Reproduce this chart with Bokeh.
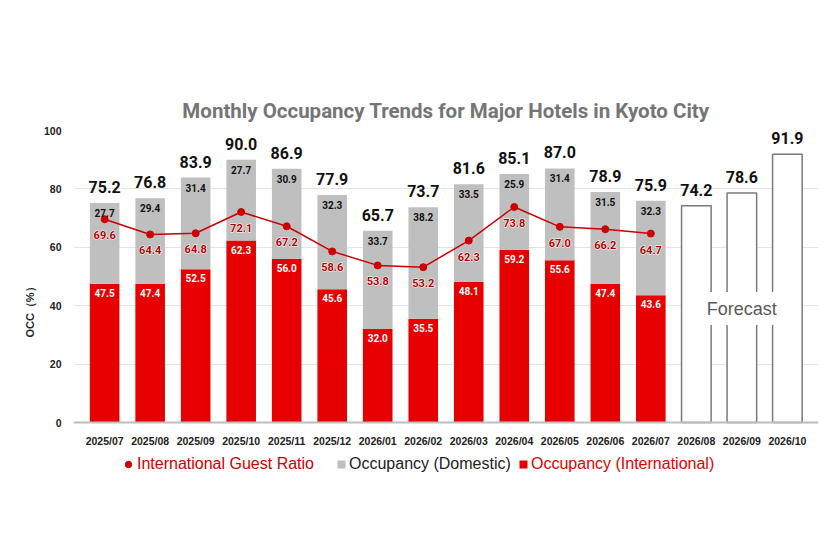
from bokeh.plotting import figure
from bokeh.models import ColumnDataSource, FactorRange, Range1d, Legend, LegendItem
from bokeh.core.properties import value
from bokeh.embed import file_html
from bokeh.resources import INLINE

months = ["2025/07", "2025/08", "2025/09", "2025/10", "2025/11", "2025/12",
          "2026/01", "2026/02", "2026/03", "2026/04", "2026/05", "2026/06",
          "2026/07", "2026/08", "2026/09", "2026/10"]
actual_months = months[:13]
forecast_months = months[13:]

occ_international = [47.5, 47.4, 52.5, 62.3, 56.0, 45.6, 32.0, 35.5, 48.1, 59.2, 55.6, 47.4, 43.6]
occ_domestic = [27.7, 29.4, 31.4, 27.7, 30.9, 32.3, 33.7, 38.2, 33.5, 25.9, 31.4, 31.5, 32.3]
intl_ratio = [69.6, 64.4, 64.8, 72.1, 67.2, 58.6, 53.8, 53.2, 62.3, 73.8, 67.0, 66.2, 64.7]
forecast_occ = [74.2, 78.6, 91.9]
y_ticks = [0, 20, 40, 60, 80, 100]

total = [round(a + b, 1) for a, b in zip(occ_international, occ_domestic)]

RED = "#e60000"
GRAY = "#bfbfbf"
LINE_RED = "#cc0000"

src = ColumnDataSource(dict(
    month=actual_months,
    intl=occ_international,
    dom=occ_domestic,
    total=total,
    ratio=intl_ratio,
    intl_lbl=[f"{v:.1f}" for v in occ_international],
    dom_lbl=[f"{v:.1f}" for v in occ_domestic],
    total_lbl=[f"{v:.1f}" for v in total],
    ratio_lbl=[f"{v:.1f}" for v in intl_ratio],
))
fsrc = ColumnDataSource(dict(
    month=forecast_months,
    occ=forecast_occ,
    lbl=[f"{v:.1f}" for v in forecast_occ],
))

# frame extends below 0 so the legend row sits inside it
p = figure(width=824, height=544,
           x_range=FactorRange(*months, range_padding=0.023),
           y_range=Range1d(-22.6, 100),
           output_backend="svg", toolbar_location=None,
           min_border_left=73, min_border_right=6,
           min_border_top=130, min_border_bottom=56)

p.title.text = "Monthly Occupancy Trends for Major Hotels in Kyoto City"
p.title.align = "center"
p.title.text_font = "Roboto"
p.title.text_font_style = "bold"
p.title.text_font_size = "20.5px"
p.title.text_color = "#757575"
p.title.standoff = 15

p.outline_line_color = None
p.xgrid.grid_line_color = None
p.ygrid.grid_line_color = "#e3e3e3"
p.ygrid.ticker = y_ticks

p.yaxis.ticker = y_ticks
p.yaxis.axis_line_color = None
p.yaxis.major_tick_line_color = None
p.yaxis.minor_tick_line_color = None
p.yaxis.major_label_text_font = "Liberation Sans"
p.yaxis.major_label_text_font_style = "bold"
p.yaxis.major_label_text_font_size = "10.5px"
p.yaxis.major_label_text_color = "#222222"
p.yaxis.major_label_standoff = 6
p.yaxis.axis_label = "OCC（%）"
p.yaxis.axis_label_text_font = "Liberation Sans"
p.yaxis.axis_label_text_font_style = "bold"
p.yaxis.axis_label_text_font_size = "11px"
p.yaxis.axis_label_text_color = "#222222"
p.yaxis.axis_label_standoff = 5
p.yaxis.bounds = (0, 100)

p.xaxis.fixed_location = 0
p.xaxis.axis_line_color = "#bdbdbd"
p.xaxis.axis_line_width = 2
p.xaxis.major_tick_line_color = None
p.xaxis.minor_tick_line_color = None
p.xaxis.major_label_text_font = "Liberation Sans"
p.xaxis.major_label_text_font_style = "bold"
p.xaxis.major_label_text_font_size = "10.5px"
p.xaxis.major_label_text_color = "#222222"
p.xaxis.major_label_standoff = 6

BW = 0.65
r_intl = p.vbar(x="month", bottom=0, top="intl", width=BW, source=src,
                fill_color=RED, line_color=None)
r_dom = p.vbar(x="month", bottom="intl", top="total", width=BW, source=src,
               fill_color=GRAY, line_color=None)
p.vbar(x="month", bottom=0, top="occ", width=BW, source=fsrc,
       fill_color="white", line_color="#7a7a7a", line_width=1.5)

# forecast box
p.rect(x=[forecast_months[1]], y=[39], width=100, height=33,
       width_units="screen", height_units="screen",
       fill_color="white", line_color=None)
p.text(x=[forecast_months[1]], y=[39], text=["Forecast"],
       text_font=value("Liberation Sans"), text_font_size="18px",
       text_color="#595959", text_align="center", text_baseline="middle")

p.line(x="month", y="ratio", source=src, line_color=LINE_RED, line_width=1.5)
r_sc = p.scatter(x="month", y="ratio", source=src, size=7,
                 fill_color=LINE_RED, line_color=LINE_RED)

# labels
p.text(x="month", y="total", text="total_lbl", source=src, y_offset=-16,
       text_font=value("Roboto"), text_font_style="bold", text_font_size="16px",
       text_color="#111111", text_align="center", text_baseline="middle")
p.text(x="month", y="occ", text="lbl", source=fsrc, y_offset=-16,
       text_font=value("Roboto"), text_font_style="bold", text_font_size="16px",
       text_color="#111111", text_align="center", text_baseline="middle")
p.text(x="month", y="total", text="dom_lbl", source=src, y_offset=10,
       text_font=value("Roboto"), text_font_style="bold", text_font_size="10px",
       text_color="#111111", text_align="center", text_baseline="middle")
p.text(x="month", y="intl", text="intl_lbl", source=src, y_offset=9,
       text_font=value("Roboto"), text_font_style="bold", text_font_size="10px",
       text_color="white", text_align="center", text_baseline="middle")
# halo then text
p.text(x="month", y="ratio", text="ratio_lbl", source=src, y_offset=16,
       text_font=value("Roboto"), text_font_style="bold", text_font_size="11px",
       text_color="white", text_outline_color="white",
       text_align="center", text_baseline="middle")
p.text(x="month", y="ratio", text="ratio_lbl", source=src, y_offset=16,
       text_font=value("Roboto"), text_font_style="bold", text_font_size="11px",
       text_color="#b00000",
       text_align="center", text_baseline="middle")

def make_legend(label, rend, x, color, gw, gh, standoff):
    leg = Legend(items=[LegendItem(label=label, renderers=[rend])],
                 location=(x, 14), orientation="horizontal",
                 border_line_color=None, background_fill_alpha=0,
                 padding=0, margin=0, spacing=0,
                 glyph_width=gw, glyph_height=gh, label_standoff=standoff,
                 label_height=20,
                 label_text_font="Liberation Sans", label_text_font_size="16px",
                 label_text_color=color)
    p.add_layout(leg)

make_legend("International Guest Ratio", r_sc, 47, LINE_RED, 16, 16, 1)
make_legend("Occupancy (Domestic)", r_dom, 263, "#222222", 10, 10, 3)
make_legend("Occupancy (International)", r_intl, 445, "#e00000", 10, 10, 3)

open("out.html", "w").write(file_html(p, INLINE))
